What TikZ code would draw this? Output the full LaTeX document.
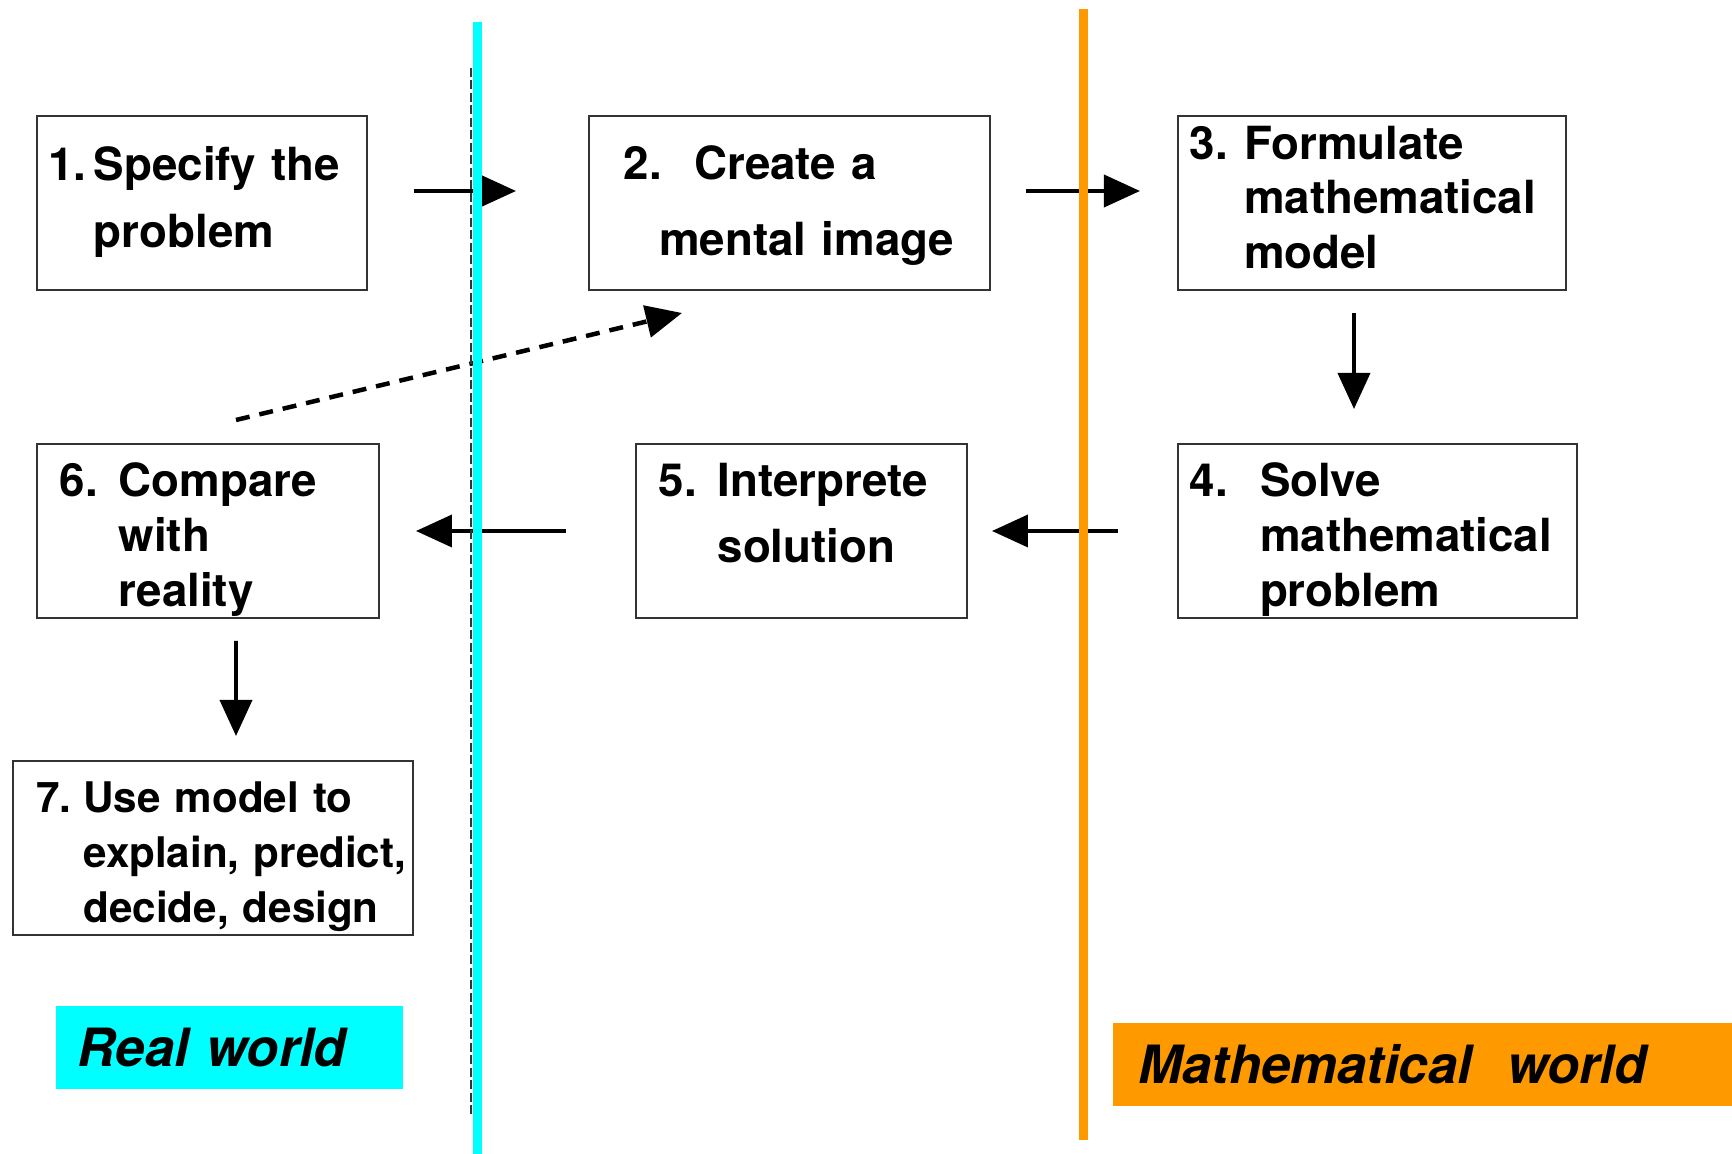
\documentclass[tikz,border=0pt]{standalone}
\usepackage{fontspec}
\setmainfont{TeX Gyre Heros}
\usetikzlibrary{arrows.meta,positioning}
\definecolor{realworld}{RGB}{0,255,255}
\definecolor{mathworld}{RGB}{255,153,0}

\begin{document}
\begin{tikzpicture}[
  x=0.1mm, y=-0.1mm,
  stepbox/.style={rectangle, draw=black!80, line width=0.2mm,
              minimum height=17.4mm, inner ysep=0pt,
              font=\fontsize{13}{15.6}\selectfont\bfseries, align=left},
  flow/.style={line width=0.38mm, -{Triangle[length=3.6mm,width=3.2mm]}},
  world/.style={anchor=north west, inner ysep=0pt, fill=#1,
              minimum height=8.3mm,
              font=\fontsize{15}{18}\selectfont\bfseries\itshape, align=left}
]
  \useasboundingbox (0,0) rectangle (1732,1154);

  % Top row
  \node[stepbox, anchor=north west, inner xsep=1.1mm, text width=30.8mm] (s1) at (36,115) {
    \begin{tabular}{@{}l@{\hspace{0.17em}}l@{}}
      1. & Specify the\\[3.3pt]
         & problem
    \end{tabular}
  };
  \node[stepbox, right=22.0mm of s1, inner xsep=3.5mm, text width=33.1mm] (s2) {
    \begin{tabular}{@{}l@{}}
      2.\hspace{0.7em}Create a\\[6pt]
      \hspace{0.77em}mental image\\[-1.9pt]
    \end{tabular}
  };
  \node[stepbox, right=18.6mm of s2, inner xsep=1.2mm, text width=36.4mm] (s3) {
    \begin{tabular}{@{}l@{\hspace{0.35em}}l@{}}
      3. & Formulate\\
         & mathematical\\
         & model
    \end{tabular}
  };

  % Bottom row, right to left
  \node[stepbox, below=15.2mm of s3.south west, anchor=north west,
        inner xsep=1.2mm, text width=37.5mm] (s4) {
    \begin{tabular}{@{}l@{\hspace{0.7em}}l@{}}
      4. & Solve\\
         & mathematical\\
         & problem\\[-5.6pt]
    \end{tabular}
  };
  \node[stepbox, left=20.9mm of s4, inner xsep=2.3mm, text width=28.5mm] (s5) {
    \begin{tabular}{@{}l@{\hspace{0.45em}}l@{}}
      5. & Interprete\\[3pt]
         & solution\\[7pt]
    \end{tabular}
  };
  \node[stepbox, left=25.5mm of s5, inner xsep=2.3mm, text width=29.6mm] (s6) {
    \begin{tabular}{@{}l@{\hspace{0.45em}}l@{}}
      6. & Compare\\
         & with\\
         & reality\\[-5.6pt]
    \end{tabular}
  };
  \node[stepbox, below=14.1mm of s6, xshift=0.5mm, inner xsep=2.3mm, text width=35.4mm,
        font=\fontsize{12}{15.6}\selectfont\bfseries] (s7) {
    \begin{tabular}{@{}l@{\hspace{0.29em}}l@{}}
      7. & Use model to\\
         & explain, predict,\\
         & decide, design\\[-5pt]
    \end{tabular}
  };

  % Arrows
  \draw[flow] ([xshift=4.6mm,yshift=1.2mm]s1.east) -- ([xshift=-7.2mm,yshift=1.2mm]s2.west);
  \draw[flow] ([xshift=3.5mm,yshift=1.2mm]s2.east) -- ([xshift=-3.7mm,yshift=1.2mm]s3.west);
  \draw[flow] ([xshift=-1.8mm,yshift=-2.2mm]s3.south) -- ([xshift=-2.35mm,yshift=3.4mm]s4.north);
  \draw[flow] ([xshift=-5.9mm]s4.west) -- ([xshift=2.4mm]s5.east);
  \draw[flow] ([xshift=-6.9mm]s5.west) -- ([xshift=3.6mm]s6.east);
  \draw[flow] ([xshift=2.8mm,yshift=-2.2mm]s6.south) -- ([xshift=2.3mm,yshift=2.4mm]s7.north);
  \draw[flow, line width=0.45mm, dash pattern=on 1.4mm off 1.0mm]
    ([xshift=2.8mm,yshift=2.3mm]s6.north) -- ([xshift=-10.75mm,yshift=-2.2mm]s2.south);

  % World dividers
  \draw[black!80, line width=0.25mm, dash pattern=on 0.9mm off 0.35mm] (471,68) -- (471,1116);
  \draw[realworld, line width=0.9mm] (477,22) -- (477,1154);
  \draw[mathworld, line width=0.9mm] (1083,9) -- (1083,1140);

  % World labels
  \node[world=realworld, inner xsep=2.2mm, text width=30.3mm] (real) at (55,1005) {Real world};
  \node[world=mathworld, inner xsep=2.6mm, text width=56.8mm] (math) at (1112,1022) {Mathematical~~world};
\end{tikzpicture}
\end{document}
